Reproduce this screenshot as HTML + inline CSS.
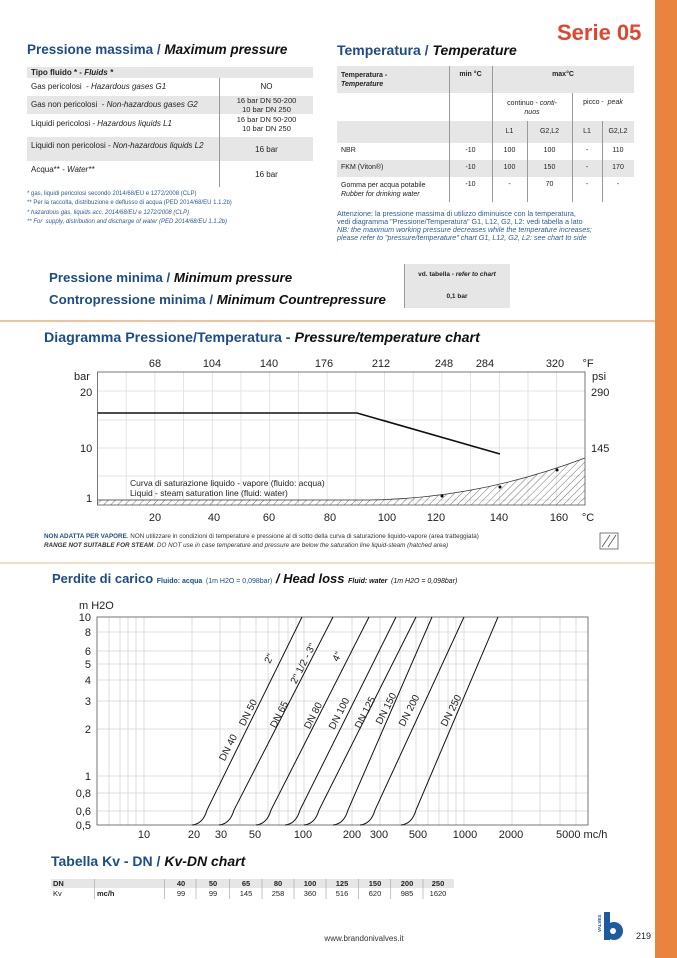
<!DOCTYPE html>
<html><head><meta charset="utf-8">
<style>
*{margin:0;padding:0;box-sizing:border-box}
body{width:677px;height:958px;position:relative;background:#fff;font-family:"Liberation Sans",sans-serif;overflow:hidden;color:#222}
.a{position:absolute;white-space:nowrap}
.h{color:#1d4c86;font-weight:bold;font-size:14px}
.h i{color:#111}
.g{background:#e6e6e6}
.t{font-size:8px}
</style></head><body>
<div class="a" style="left:655px;top:0;width:22px;height:958px;background:#e8843e"></div>
<div class="a" style="left:0;top:320px;width:655px;height:2px;background:#f3c29b"></div>
<div class="a" style="left:0;top:562px;width:655px;height:2px;background:#f7dcc5"></div>

<div class="a" style="left:557px;top:20px;font-size:22px;font-weight:bold;color:#e0452f">Serie 05</div>

<!-- Max pressure -->
<div class="a h" style="left:27px;top:42px;font-size:13.5px">Pressione massima / <i>Maximum pressure</i></div>
<div class="a g" style="left:27px;top:67px;width:286px;height:11px"></div>
<div class="a t" style="left:31px;top:68px;font-weight:bold">Tipo fluido * - <i>Fluids *</i></div>
<div class="a g" style="left:27px;top:96px;width:286px;height:18px"></div>
<div class="a g" style="left:27px;top:137px;width:286px;height:24px"></div>
<div class="a" style="left:219px;top:78px;width:1px;height:109px;background:#999"></div>
<div class="a t" style="left:31px;top:82px">Gas pericolosi &nbsp;- <i>Hazardous gases G1</i></div>
<div class="a t" style="left:31px;top:100px">Gas non pericolosi &nbsp;- <i>Non-hazardous gases G2</i></div>
<div class="a t" style="left:31px;top:119px">Liquidi pericolosi - <i>Hazardous liquids L1</i></div>
<div class="a t" style="left:31px;top:141px">Liquidi non pericolosi - <i>Non-hazardous liquids L2</i></div>
<div class="a t" style="left:31px;top:165px">Acqua** - <i>Water**</i></div>
<div class="a t" style="left:220px;width:93px;top:82px;text-align:center">NO</div>
<div class="a t" style="left:220px;width:93px;top:97px;text-align:center;line-height:8.5px;font-size:7.5px">16 bar DN 50-200<br>10 bar DN 250</div>
<div class="a t" style="left:220px;width:93px;top:116px;text-align:center;line-height:8.5px;font-size:7.5px">16 bar DN 50-200<br>10 bar DN 250</div>
<div class="a t" style="left:220px;width:93px;top:145px;text-align:center">16 bar</div>
<div class="a t" style="left:220px;width:93px;top:170px;text-align:center">16 bar</div>
<div class="a" style="left:27px;top:190px;font-size:6px;line-height:9.4px;color:#2d5a99">* gas, liquidi pericolosi secondo 2014/68/EU e 1272/2008 (CLP)<br>** Per la raccolta, distribuzione e deflusso di acqua (PED 2014/68/EU 1.1.2b)<br><i>* hazardous gas, liquids acc. 2014/68/EU e 1272/2008 (CLP)<br>** For &nbsp;supply, distribution and discharge of water (PED 2014/68/EU 1.1.2b)</i></div>

<!-- Temperature -->
<div class="a h" style="left:337px;top:42px">Temperatura / <i>Temperature</i></div>
<div class="a g" style="left:337px;top:66px;width:297px;height:27px"></div>
<div class="a g" style="left:337px;top:121px;width:297px;height:22px"></div>
<div class="a g" style="left:337px;top:160px;width:297px;height:17px"></div>
<div class="a" style="left:449px;top:66px;width:1px;height:136px;background:#999"></div>
<div class="a" style="left:492px;top:66px;width:1px;height:136px;background:#999"></div>
<div class="a" style="left:572px;top:93px;width:1px;height:109px;background:#999"></div>
<div class="a" style="left:527px;top:121px;width:1px;height:81px;background:#999"></div>
<div class="a" style="left:602px;top:121px;width:1px;height:81px;background:#999"></div>
<div class="a" style="left:341px;top:71px;font-size:7px;font-weight:bold;line-height:9px">Temperatura -<br><i>Temperature</i></div>
<div class="a t" style="left:449px;width:43px;top:71px;text-align:center;font-weight:bold;font-size:7px">min °C</div>
<div class="a t" style="left:492px;width:142px;top:71px;text-align:center;font-weight:bold;font-size:7px">max°C</div>
<div class="a" style="left:492px;width:80px;top:99px;text-align:center;font-size:7px;line-height:9px">continuo - <i>conti-<br>nuos</i></div>
<div class="a" style="left:572px;width:62px;top:99px;text-align:center;font-size:7px">picco - &nbsp;<i>peak</i></div>
<div class="a" style="left:492px;width:35px;top:128px;text-align:center;font-size:7px">L1</div>
<div class="a" style="left:527px;width:45px;top:128px;text-align:center;font-size:7px">G2,L2</div>
<div class="a" style="left:572px;width:30px;top:128px;text-align:center;font-size:7px">L1</div>
<div class="a" style="left:602px;width:32px;top:128px;text-align:center;font-size:7px">G2,L2</div>
<div class="a" style="left:341px;top:147px;font-size:7px">NBR</div>
<div class="a" style="left:341px;top:164px;font-size:7px">FKM (Viton®)</div>
<div class="a" style="left:341px;top:181px;font-size:7px;line-height:9px">Gomma per acqua potabile<br><i>Rubber for drinking water</i></div>
<div class="a" style="left:449px;width:43px;top:147px;text-align:center;font-size:7px">-10</div>
<div class="a" style="left:449px;width:43px;top:164px;text-align:center;font-size:7px">-10</div>
<div class="a" style="left:449px;width:43px;top:181px;text-align:center;font-size:7px">-10</div>
<div class="a" style="left:492px;width:35px;top:147px;text-align:center;font-size:7px">100</div>
<div class="a" style="left:492px;width:35px;top:164px;text-align:center;font-size:7px">100</div>
<div class="a" style="left:492px;width:35px;top:181px;text-align:center;font-size:7px">-</div>
<div class="a" style="left:527px;width:45px;top:147px;text-align:center;font-size:7px">100</div>
<div class="a" style="left:527px;width:45px;top:164px;text-align:center;font-size:7px">150</div>
<div class="a" style="left:527px;width:45px;top:181px;text-align:center;font-size:7px">70</div>
<div class="a" style="left:572px;width:30px;top:147px;text-align:center;font-size:7px">-</div>
<div class="a" style="left:572px;width:30px;top:164px;text-align:center;font-size:7px">-</div>
<div class="a" style="left:572px;width:30px;top:181px;text-align:center;font-size:7px">-</div>
<div class="a" style="left:602px;width:32px;top:147px;text-align:center;font-size:7px">110</div>
<div class="a" style="left:602px;width:32px;top:164px;text-align:center;font-size:7px">170</div>
<div class="a" style="left:602px;width:32px;top:181px;text-align:center;font-size:7px">-</div>
<div class="a" style="left:337px;top:210px;font-size:7.2px;line-height:8px;color:#2d5a99">Attenzione: la pressione massima di utilizzo diminuisce con la temperatura,<br>vedi diagramma "Pressione/Temperatura" G1, L12, G2, L2: vedi tabella a lato<br><i>NB: the maximum working pressure decreases while the temperature increases;<br>please refer to "pressure/temperature" chart G1, L12, G2, L2: see chart to side</i></div>

<!-- Min pressure -->
<div class="a h" style="left:49px;top:270px;font-size:13.3px">Pressione minima / <i>Minimum pressure</i></div>
<div class="a h" style="left:49px;top:292px;font-size:13.3px">Contropressione minima / <i>Minimum Countrepressure</i></div>
<div class="a g" style="left:404px;top:264px;width:106px;height:44px;border-left:1px solid #999"></div>
<div class="a" style="left:404px;width:106px;top:271px;text-align:center;font-size:6.5px;font-weight:bold">vd. tabella - <i>refer to chart</i></div>
<div class="a" style="left:404px;width:106px;top:293px;text-align:center;font-size:6.5px;font-weight:bold">0,1 bar</div>

<div class="a h" style="left:44px;top:330px;font-size:14.2px">Diagramma Pressione/Temperatura - <i>Pressure/temperature chart</i></div>
<div class="a" style="left:44px;top:532px;font-size:6.3px;line-height:9px;color:#333"><b style="color:#1d4c86">NON ADATTA PER VAPORE</b>. NON utilizzare in condizioni di temperature e pressione al di sotto della curva di saturazione liquido-vapore (area tratteggiata)<br><b><i>RANGE NOT SUITABLE FOR STEAM</i></b>. <i>DO NOT use in case temperature and pressure are below the saturation line liquid-steam (hatched area)</i></div>

<div class="a" style="left:52px;top:571px;color:#1d4c86;font-weight:bold;font-size:13px">Perdite di carico <span style="font-size:7px">Fluido: acqua</span> <span style="font-size:7px;font-weight:normal">(1m H2O = 0,098bar)</span> <i style="color:#111">/ Head loss</i> <i style="font-size:7px;color:#111">Fluid: water</i> <i style="font-size:7px;font-weight:normal;color:#111">(1m H2O = 0,098bar)</i></div>

<div class="a h" style="left:51px;top:853px">Tabella Kv - DN / <i>Kv-DN chart</i></div>

<svg class="a" style="left:0;top:0" width="677" height="958" font-family="Liberation Sans, sans-serif">
<defs><pattern id="hp" width="5" height="5" patternUnits="userSpaceOnUse" patternTransform="rotate(45)"><line x1="0" y1="0" x2="0" y2="5" stroke="#333" stroke-width="0.7"/></pattern></defs>
<g stroke="#ddd" stroke-width="0.8">
<line x1="126.2" y1="372" x2="126.2" y2="505"/><line x1="154.9" y1="372" x2="154.9" y2="505"/><line x1="183.6" y1="372" x2="183.6" y2="505"/><line x1="212.3" y1="372" x2="212.3" y2="505"/><line x1="241" y1="372" x2="241" y2="505"/><line x1="269.7" y1="372" x2="269.7" y2="505"/><line x1="298.4" y1="372" x2="298.4" y2="505"/><line x1="327.1" y1="372" x2="327.1" y2="505"/><line x1="355.8" y1="372" x2="355.8" y2="505"/><line x1="384.5" y1="372" x2="384.5" y2="505"/><line x1="413.2" y1="372" x2="413.2" y2="505"/><line x1="441.9" y1="372" x2="441.9" y2="505"/><line x1="470.6" y1="372" x2="470.6" y2="505"/><line x1="499.3" y1="372" x2="499.3" y2="505"/><line x1="528" y1="372" x2="528" y2="505"/><line x1="556.7" y1="372" x2="556.7" y2="505"/>
<line x1="97" y1="391" x2="585" y2="391"/><line x1="97" y1="420" x2="585" y2="420"/><line x1="97" y1="448" x2="585" y2="448"/><line x1="97" y1="476" x2="585" y2="476"/><line x1="97" y1="500" x2="585" y2="500"/>
</g>
<path d="M97.5,500 L370,500 C430,499 500,490 585,458 L585,505 L97.5,505 Z" fill="url(#hp)" stroke="none"/>
<path d="M97.5,500 L370,500 C430,499 500,490 585,458" fill="none" stroke="#333" stroke-width="0.8"/>
<circle cx="442" cy="496" r="1.5" fill="#000"/><circle cx="500" cy="487" r="1.5" fill="#000"/><circle cx="557" cy="470" r="1.5" fill="#000"/>
<rect x="97.5" y="372" width="487.5" height="133" fill="none" stroke="#555" stroke-width="0.8"/>
<polyline points="97.5,413 357,413 500,454" fill="none" stroke="#111" stroke-width="1.6"/>
<g font-size="11" fill="#222" text-anchor="middle">
<text x="155" y="367">68</text><text x="212" y="367">104</text><text x="269" y="367">140</text><text x="324" y="367">176</text><text x="381" y="367">212</text><text x="444" y="367">248</text><text x="485" y="367">284</text><text x="555" y="367">320</text><text x="588" y="367">°F</text>
<text x="155" y="521">20</text><text x="214" y="521">40</text><text x="269" y="521">60</text><text x="330" y="521">80</text><text x="387" y="521">100</text><text x="436" y="521">120</text><text x="499" y="521">140</text><text x="559" y="521">160</text><text x="588" y="521">°C</text>
</g>
<g font-size="11" fill="#222">
<text x="74" y="380">bar</text><text x="80" y="396">20</text><text x="80" y="452">10</text><text x="86" y="502">1</text>
<text x="592" y="380">psi</text><text x="591" y="396">290</text><text x="591" y="452">145</text>
</g>
<text x="130" y="486" font-size="8.5" fill="#222">Curva di saturazione liquido - vapore (fluido: acqua)</text>
<text x="130" y="496" font-size="8.5" fill="#222">Liquid - steam saturation line (fluid: water)</text>
<rect x="600" y="533" width="18" height="16" fill="none" stroke="#444" stroke-width="0.7"/>
<line x1="602" y1="547" x2="610" y2="535" stroke="#444" stroke-width="0.7"/><line x1="608" y1="547" x2="616" y2="535" stroke="#444" stroke-width="0.7"/>

<g stroke="#d4d4d4" stroke-width="0.8">
<line x1="109" y1="617" x2="109" y2="825"/><line x1="120" y1="617" x2="120" y2="825"/><line x1="128" y1="617" x2="128" y2="825"/><line x1="136" y1="617" x2="136" y2="825"/><line x1="144" y1="617" x2="144" y2="825"/>
<line x1="192" y1="617" x2="192" y2="825"/><line x1="220" y1="617" x2="220" y2="825"/><line x1="240" y1="617" x2="240" y2="825"/><line x1="256" y1="617" x2="256" y2="825"/><line x1="268" y1="617" x2="268" y2="825"/><line x1="279" y1="617" x2="279" y2="825"/><line x1="288" y1="617" x2="288" y2="825"/><line x1="296" y1="617" x2="296" y2="825"/><line x1="304" y1="617" x2="304" y2="825"/>
<line x1="352" y1="617" x2="352" y2="825"/><line x1="380" y1="617" x2="380" y2="825"/><line x1="400" y1="617" x2="400" y2="825"/><line x1="416" y1="617" x2="416" y2="825"/><line x1="428" y1="617" x2="428" y2="825"/><line x1="439" y1="617" x2="439" y2="825"/><line x1="448" y1="617" x2="448" y2="825"/><line x1="456" y1="617" x2="456" y2="825"/><line x1="464" y1="617" x2="464" y2="825"/>
<line x1="512" y1="617" x2="512" y2="825"/><line x1="540" y1="617" x2="540" y2="825"/><line x1="560" y1="617" x2="560" y2="825"/><line x1="576" y1="617" x2="576" y2="825"/>
<line x1="97" y1="632" x2="588" y2="632"/><line x1="97" y1="651" x2="588" y2="651"/><line x1="97" y1="664" x2="588" y2="664"/><line x1="97" y1="680" x2="588" y2="680"/><line x1="97" y1="701" x2="588" y2="701"/><line x1="97" y1="729" x2="588" y2="729"/><line x1="97" y1="776" x2="588" y2="776"/><line x1="97" y1="793" x2="588" y2="793"/><line x1="97" y1="811" x2="588" y2="811"/>
</g>
<rect x="97" y="617" width="491" height="208" fill="none" stroke="#555" stroke-width="0.8"/>
<g fill="none" stroke="#111" stroke-width="1">
<path d="M192,825 Q203,824 207,810 L302,617"/>
<path d="M219,825 Q230,824 234,810 L333,617"/>
<path d="M256,825 Q267,824 271,810 L369,617"/>
<path d="M285,825 Q296,824 300,810 L396,617"/>
<path d="M304,825 Q315,824 319,810 L416,617"/>
<path d="M333,825 Q344,824 348,810 L432,617"/>
<path d="M360,825 Q371,824 375,810 L464,617"/>
<path d="M401,825 Q412,824 416,810 L498,617"/>
</g>
<g font-size="11" fill="#222">
<text x="79" y="609">m H2O</text>
<g text-anchor="end"><text x="91" y="621">10</text><text x="91" y="636">8</text><text x="91" y="655">6</text><text x="91" y="668">5</text><text x="91" y="684">4</text><text x="91" y="705">3</text><text x="91" y="733">2</text><text x="91" y="780">1</text><text x="91" y="797">0,8</text><text x="91" y="815">0,6</text><text x="91" y="829">0,5</text></g>
<g text-anchor="middle"><text x="144" y="838">10</text><text x="194" y="838">20</text><text x="221" y="838">30</text><text x="255" y="838">50</text><text x="303" y="838">100</text><text x="352" y="838">200</text><text x="379" y="838">300</text><text x="418" y="838">500</text><text x="465" y="838">1000</text><text x="511" y="838">2000</text></g>
<text x="556" y="838">5000 mc/h</text>
</g>
<g font-size="10" fill="#222" text-anchor="middle">
<text transform="translate(231,749) rotate(-63)">DN 40</text>
<text transform="translate(251,714) rotate(-63)">DN 50</text>
<text transform="translate(272,660) rotate(-63)">2"</text>
<text transform="translate(282,716) rotate(-63)">DN 65</text>
<text transform="translate(306,665) rotate(-63)">2" 1/2 - 3"</text>
<text transform="translate(316,717) rotate(-63)">DN 80</text>
<text transform="translate(340,658) rotate(-63)">4"</text>
<text transform="translate(342,715) rotate(-63)">DN 100</text>
<text transform="translate(368,714) rotate(-63)">DN 125</text>
<text transform="translate(389,710) rotate(-63)">DN 150</text>
<text transform="translate(412,712) rotate(-63)">DN 200</text>
<text transform="translate(454,712) rotate(-63)">DN 250</text>
</g>

<rect x="51" y="879" width="403" height="9" fill="#e6e6e6"/>
<g stroke="#aaa" stroke-width="0.7">
<line x1="94.6" y1="879" x2="94.6" y2="899"/><line x1="164.5" y1="879" x2="164.5" y2="899"/><line x1="196" y1="879" x2="196" y2="899"/><line x1="229.5" y1="879" x2="229.5" y2="899"/><line x1="262" y1="879" x2="262" y2="899"/><line x1="294" y1="879" x2="294" y2="899"/><line x1="326" y1="879" x2="326" y2="899"/><line x1="358.5" y1="879" x2="358.5" y2="899"/><line x1="390.7" y1="879" x2="390.7" y2="899"/><line x1="423" y1="879" x2="423" y2="899"/>
</g>
<g font-size="7.5" fill="#222">
<text x="53" y="886" font-weight="bold">DN</text><text x="53" y="896">Kv</text><text x="97" y="896" font-weight="bold">mc/h</text>
<g font-weight="bold" text-anchor="middle"><text x="181" y="886">40</text><text x="213" y="886">50</text><text x="246" y="886">65</text><text x="278" y="886">80</text><text x="310" y="886">100</text><text x="342" y="886">125</text><text x="375" y="886">150</text><text x="407" y="886">200</text><text x="438" y="886">250</text></g>
<g text-anchor="middle"><text x="181" y="896">99</text><text x="213" y="896">99</text><text x="246" y="896">145</text><text x="278" y="896">258</text><text x="310" y="896">360</text><text x="342" y="896">516</text><text x="375" y="896">620</text><text x="407" y="896">985</text><text x="438" y="896">1620</text></g>
</g>
<text x="364" y="941" font-size="8" fill="#333" text-anchor="middle">www.brandonivalves.it</text>
<rect x="604" y="912" width="6" height="28" fill="#1d5aa0"/>
<circle cx="614" cy="931" r="9" fill="#1d5aa0"/><circle cx="613" cy="931" r="3" fill="#fff"/>
<text transform="translate(601,932) rotate(-90)" font-size="4.5" font-weight="bold" fill="#1d5aa0">VALVES</text>
<text x="636" y="939" font-size="9" fill="#222">219</text>
</svg>
</body></html>
